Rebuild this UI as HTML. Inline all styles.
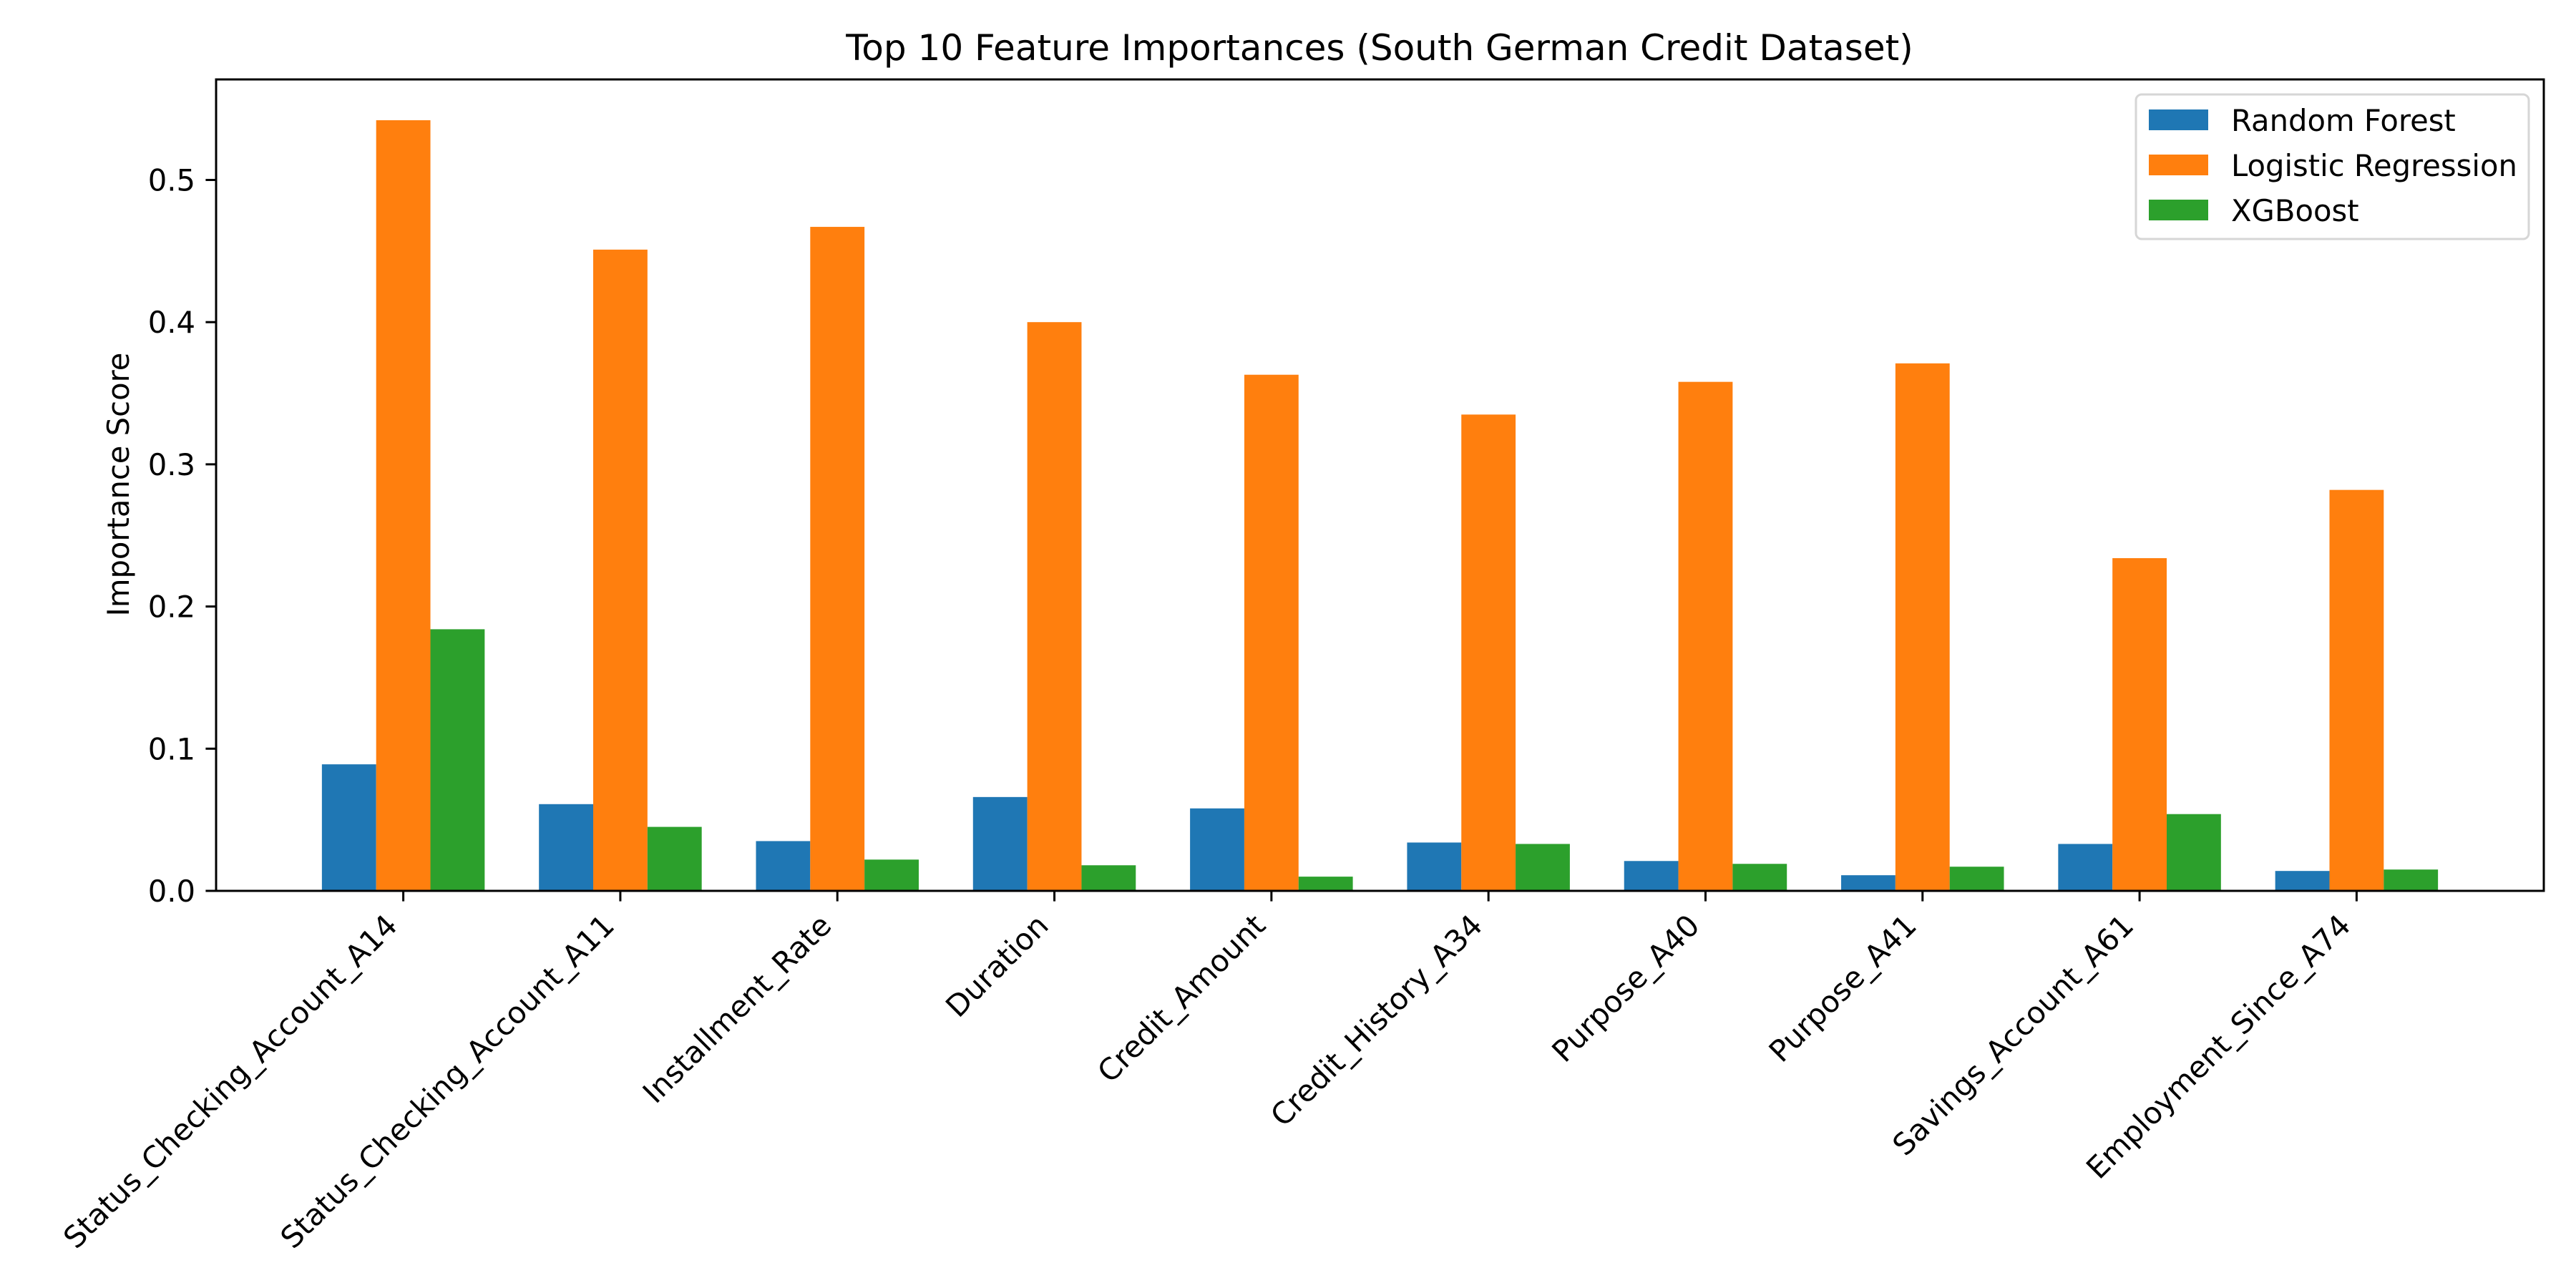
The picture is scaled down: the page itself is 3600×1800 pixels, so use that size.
<!DOCTYPE html>
<html><head><meta charset="utf-8"><style>
html,body{margin:0;padding:0;background:#fff;}
svg{display:block;font-family:"DejaVu Sans","Liberation Sans",sans-serif;}
</style></head><body>
<svg id="chart" width="3600" height="1800" viewBox="0 0 3600 1800" xmlns="http://www.w3.org/2000/svg">
<rect width="3600" height="1800" fill="#fff"/>
<text x="1928" y="84" font-size="50" text-anchor="middle">Top 10 Feature Importances (South German Credit Dataset)</text>
<text transform="translate(180,677) rotate(-90)" font-size="41.7" text-anchor="middle">Importance Score</text>
<g id="bars"></g>
<g id="yticks"></g>
<g id="xticks"></g>
<rect x="302" y="111" width="3253" height="1134" fill="none" stroke="#000" stroke-width="3"/>
<g id="legend"></g>
</svg>
<script>
const categories = ["Status_Checking_Account_A14","Status_Checking_Account_A11","Installment_Rate","Duration","Credit_Amount","Credit_History_A34","Purpose_A40","Purpose_A41","Savings_Account_A61","Employment_Since_A74"];
const seriesNames = ["Random Forest","Logistic Regression","XGBoost"];
const rfValues = [0.089,0.061,0.035,0.066,0.058,0.034,0.021,0.011,0.033,0.014];
const lrValues = [0.542,0.451,0.467,0.400,0.363,0.335,0.358,0.371,0.234,0.282];
const xgbValues = [0.184,0.045,0.022,0.018,0.010,0.033,0.019,0.017,0.054,0.015];
const yTicks = [0.0,0.1,0.2,0.3,0.4,0.5];
const yTickLabels = ["0.0","0.1","0.2","0.3","0.4","0.5"];

const NS="http://www.w3.org/2000/svg";
const colors=["#1f77b4","#ff7f0e","#2ca02c"];
const series=[rfValues,lrValues,xgbValues];
const L=302,R=3555,T=111,B=1245;
const yMax=0.5707;
const xMin=-0.8625,xMax=categories.length-1+0.8625;
function xs(v){return L+(v-xMin)/(xMax-xMin)*(R-L);}
function ys(v){return B-v/yMax*(B-T);}
function mk(tag,attrs,parent){const e=document.createElementNS(NS,tag);for(const k in attrs)e.setAttribute(k,attrs[k]);parent.appendChild(e);return e;}
const gb=document.getElementById('bars');
const bw=0.25;
series.forEach((vals,si)=>{
  vals.forEach((v,i)=>{
    const c=i+(si-1)*bw;
    const x0=xs(c-bw/2),x1=xs(c+bw/2);
    const r=mk('rect',{x:x0,y:ys(v),width:x1-x0,height:ys(0)-ys(v),fill:colors[si]},gb);
    
    
  });
});
const gy=document.getElementById('yticks');
yTicks.forEach((t,i)=>{
  const y=ys(t);
  const l=mk('line',{x1:L-14.6,x2:L,y1:y,y2:y,stroke:'#000','stroke-width':3},gy);
  
  
  const tx=mk('text',{x:L-29,y:y+15,'font-size':41.7,'text-anchor':'end'},gy);
  tx.textContent=yTickLabels[i];
  
  
});
const gx=document.getElementById('xticks');
categories.forEach((c,i)=>{
  const x=xs(i);
  const l=mk('line',{x1:x,x2:x,y1:B,y2:B+14.6,stroke:'#000','stroke-width':3},gx);
  
  
  const tx=mk('text',{transform:'translate('+(x-6)+','+(B+51)+') rotate(-45)','font-size':41.7,'text-anchor':'end'},gx);
  tx.textContent=c;
  
  
});
const lg=document.getElementById('legend');
const lx=2985,ly=132,lw=549,lh=202;
const box=mk('rect',{x:lx,y:ly,width:lw,height:lh,rx:8,fill:'#fff','fill-opacity':0.8,stroke:'#d6d6d6','stroke-width':3},lg);


seriesNames.forEach((n,i)=>{
  const cy=ly+36+i*63;
  const p=mk('rect',{x:lx+18,y:cy-15,width:83,height:29,fill:colors[i]},lg);
  
  
  const t=mk('text',{x:lx+133,y:cy+15,'font-size':41.7},lg);
  t.textContent=n;
  
  
});
</script>
</body></html>
